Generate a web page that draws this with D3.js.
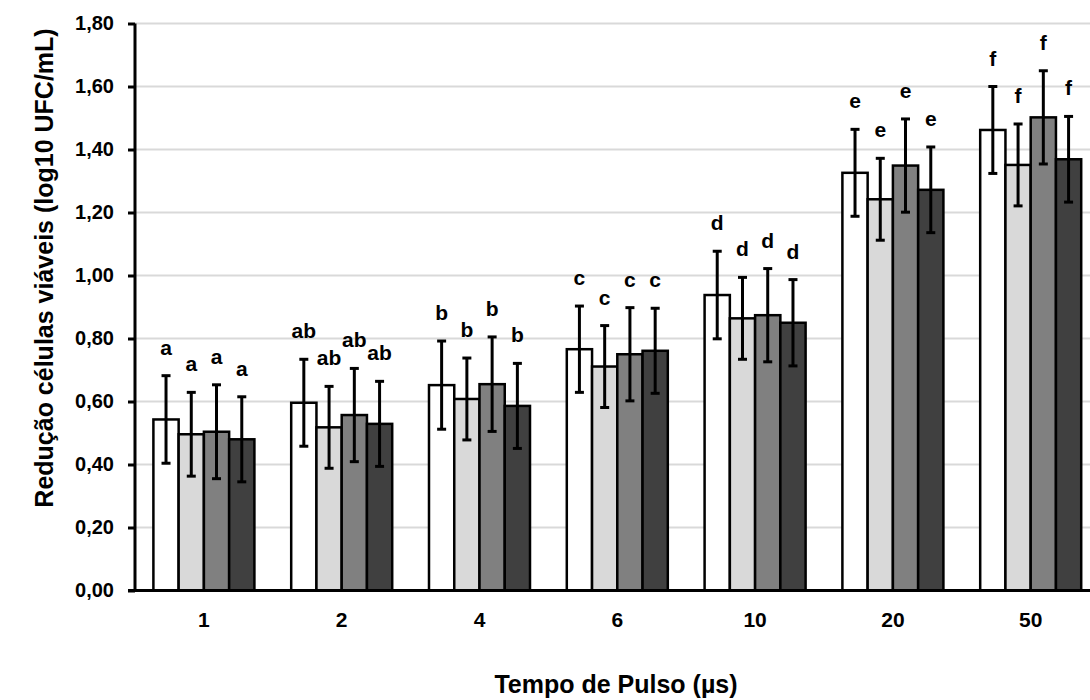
<!DOCTYPE html>
<html>
<head>
<meta charset="utf-8">
<script src="https://cdn.jsdelivr.net/npm/d3@7"></script>
<style>
  html, body { margin: 0; padding: 0; background: #fff; }
  svg { display: block; font-family: "Liberation Sans", Arial, sans-serif; }
</style>
</head>
<body>
<svg id="chart" width="1090" height="700"></svg>
<script>
// ---- data ----
const categories = ["1", "2", "4", "6", "10", "20", "50"];
const seriesNames = ["Série 1", "Série 2", "Série 3", "Série 4"];
const serie1 = [0.543, 0.596, 0.652, 0.766, 0.938, 1.326, 1.462];
const serie2 = [0.496, 0.518, 0.608, 0.711, 0.864, 1.242, 1.351];
const serie3 = [0.504, 0.557, 0.655, 0.750, 0.874, 1.349, 1.502];
const serie4 = [0.480, 0.529, 0.586, 0.761, 0.850, 1.272, 1.369];
const erro1 = [0.139, 0.138, 0.140, 0.137, 0.139, 0.138, 0.138];
const erro2 = [0.133, 0.130, 0.130, 0.130, 0.130, 0.130, 0.130];
const erro3 = [0.149, 0.148, 0.150, 0.148, 0.148, 0.148, 0.148];
const erro4 = [0.135, 0.135, 0.135, 0.135, 0.137, 0.136, 0.136];
const letras = ["a", "ab", "b", "c", "d", "e", "f"];
const yTicks = [0, 0.2, 0.4, 0.6, 0.8, 1.0, 1.2, 1.4, 1.6, 1.8];
const fills = ["#ffffff", "#d9d9d9", "#808080", "#404040"];

const values = [serie1, serie2, serie3, serie4];
const errors = [erro1, erro2, erro3, erro4];

// ---- layout ----
const svg = d3.select("#chart");
const mLeft = 135, mRight = 1099.6, mTop = 23.5, mBottom = 590.5;

const x = d3.scaleBand().domain(categories).range([mLeft, mRight])
  .paddingInner(0.267).paddingOuter(0.1335);
const xs = d3.scaleBand().domain(seriesNames).range([0, x.bandwidth()]);
const y = d3.scaleLinear().domain([0, 1.8]).range([mBottom, mTop]);

// gridlines
svg.append("g").selectAll("line").data(yTicks.filter(d => d > 0)).join("line")
  .attr("x1", mLeft).attr("x2", mRight)
  .attr("y1", d => y(d)).attr("y2", d => y(d))
  .attr("stroke", "#d9d9d9").attr("stroke-width", 2);

// flat data
const flat = [];
categories.forEach((c, i) => {
  seriesNames.forEach((s, j) => {
    flat.push({ cat: c, ser: s, j: j, v: values[j][i], e: errors[j][i], lab: letras[i] });
  });
});

// bars
svg.append("g").selectAll("rect").data(flat).join("rect")
  .attr("x", d => x(d.cat) + xs(d.ser))
  .attr("y", d => y(d.v))
  .attr("width", xs.bandwidth())
  .attr("height", d => y(0) - y(d.v))
  .attr("fill", d => fills[d.j])
  .attr("stroke", "#000").attr("stroke-width", 2.5);

// error bars
const eg = svg.append("g").attr("stroke", "#000").attr("stroke-width", 3);
const cx = d => x(d.cat) + xs(d.ser) + xs.bandwidth() / 2;
eg.selectAll("line.v").data(flat).join("line").attr("class", "v")
  .attr("x1", cx).attr("x2", cx)
  .attr("y1", d => y(d.v + d.e)).attr("y2", d => y(d.v - d.e));
eg.selectAll("line.t").data(flat).join("line").attr("class", "t")
  .attr("x1", d => cx(d) - 4.5).attr("x2", d => cx(d) + 4.5)
  .attr("y1", d => y(d.v + d.e)).attr("y2", d => y(d.v + d.e));
eg.selectAll("line.b").data(flat).join("line").attr("class", "b")
  .attr("x1", d => cx(d) - 4.5).attr("x2", d => cx(d) + 4.5)
  .attr("y1", d => y(d.v - d.e)).attr("y2", d => y(d.v - d.e));

// letter labels
svg.append("g").selectAll("text").data(flat).join("text")
  .attr("x", cx)
  .attr("y", d => y(d.v + d.e) - 21)
  .attr("text-anchor", "middle")
  .attr("font-size", 21).attr("font-weight", "bold")
  .text(d => d.lab);

// y axis
const yAxis = d3.axisLeft(y).tickValues(yTicks)
  .tickFormat(d => d3.format(".2f")(d).replace(".", ","))
  .tickSize(7).tickPadding(14);
const ya = svg.append("g").attr("transform", `translate(${mLeft},0)`).call(yAxis);
ya.select(".domain").attr("stroke", "#000").attr("stroke-width", 3)
  .attr("d", `M0,${mBottom + 1.5}V${mTop}`);
ya.selectAll(".tick line").attr("stroke", "#000").attr("stroke-width", 3);
ya.selectAll(".tick text").attr("font-size", 20).attr("font-weight", "bold")
  .attr("fill", "#000").attr("font-family", "Liberation Sans, Arial, sans-serif");

// x axis
const xAxis = d3.axisBottom(x).tickSize(0).tickPadding(22);
const xa = svg.append("g").attr("transform", `translate(0,${mBottom})`).call(xAxis);
xa.select(".domain").attr("stroke", "#000").attr("stroke-width", 3)
  .attr("d", `M${mLeft - 7},0H${mRight}`);
xa.selectAll(".tick text").attr("font-size", 21).attr("font-weight", "bold")
  .attr("fill", "#000").attr("font-family", "Liberation Sans, Arial, sans-serif");

// axis titles
svg.append("text")
  .attr("x", 616).attr("y", 693)
  .attr("text-anchor", "middle").attr("font-size", 25).attr("font-weight", "bold")
  .text("Tempo de Pulso (µs)");

svg.append("text")
  .attr("transform", "translate(53,268) rotate(-90)")
  .attr("text-anchor", "middle").attr("font-size", 25).attr("font-weight", "bold")
  .text("Redução células viáveis (log10 UFC/mL)");
</script>
</body>
</html>
